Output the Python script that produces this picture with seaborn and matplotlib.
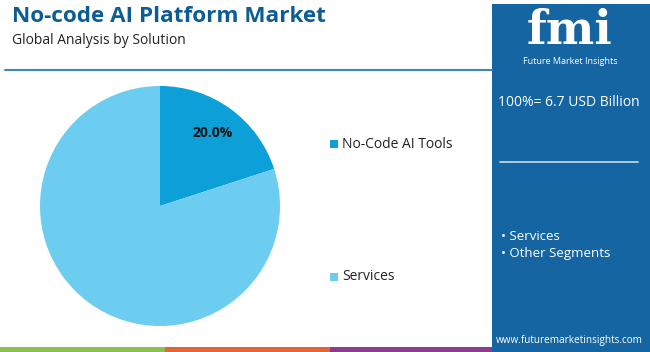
import matplotlib
matplotlib.use("Agg")
import matplotlib.pyplot as plt
from matplotlib.patches import Rectangle
import seaborn as sns

categories = ["No-Code AI Tools", "Services"]
shares = [20.0, 80.0]
label_texts = ["20.0%", ""]
colors = ["#0c9fd8", "#6ccdf0"]

title = "No-code AI Platform Market"
subtitle = "Global Analysis by Solution"
total_text = "100%= 6.7 USD Billion"
bullets = ["• Services", "• Other Segments"]
website = "www.futuremarketinsights.com"

sns.set_theme(style="white")
plt.rcParams['font.family'] = ['Open Sans', 'DejaVu Sans']

W, H = 650, 352
fig = plt.figure(figsize=(W / 100, H / 100), dpi=100)
fig.patch.set_facecolor("white")

def fx(x):
    return x / W

def fy(y):
    return 1 - y / H

# Right panel
fig.patches.append(Rectangle((fx(492), fy(346)), fx(650) - fx(492), fy(4) - fy(346),
                             transform=fig.transFigure, facecolor="#1565a3", edgecolor="none", zorder=0))
# bottom strips
for x0, x1, c in [(0, 165, "#8cc152"), (165, 330, "#e2653a"), (330, 492, "#8e3b8f")]:
    fig.patches.append(Rectangle((fx(x0), fy(352)), fx(x1) - fx(x0), fy(347) - fy(352),
                                 transform=fig.transFigure, facecolor=c, edgecolor="none"))
fig.patches.append(Rectangle((fx(492), fy(352)), fx(650) - fx(492), fy(346) - fy(352),
                             transform=fig.transFigure, facecolor="#1565a3", edgecolor="none"))

# header line
fig.lines.append(plt.Line2D([fx(5), fx(492)], [fy(70), fy(70)], transform=fig.transFigure,
                            color="#3d86c0", lw=1.5))

fig.text(fx(12), fy(17), title, fontsize=16.2, fontweight="bold", color="#0b5d94", va="center", ha="left")
fig.text(fx(12), fy(41), subtitle, fontsize=10, color="#222222", va="center", ha="left")

# logo
fig.text(fx(570), fy(31), "fmi", fontsize=33, fontweight="bold", color="white", ha="center", va="center",
         family=["DejaVu Serif"])
fig.text(fx(570), fy(62), "Future Market Insights", fontsize=6.5, color="white", ha="center", va="center")

fig.text(fx(569), fy(102), total_text, fontsize=10, color="white", ha="center", va="center")
fig.lines.append(plt.Line2D([fx(500), fx(638)], [fy(162), fy(162)], transform=fig.transFigure,
                            color="#c9dcec", lw=1.2))
for i, b in enumerate(bullets):
    fig.text(fx(501), fy(237 + 17 * i), b, fontsize=9.5, color="white", ha="left", va="center")
fig.text(fx(569), fy(340), website, fontsize=7.2, color="white", ha="center", va="center")

# pie
ax = fig.add_axes([fx(40), fy(326), fx(280) - fx(40), fy(86) - fy(326)])
wedges, texts = ax.pie(shares, colors=colors, startangle=90, counterclock=False,
                       labels=label_texts, labeldistance=0.75,
                       wedgeprops=dict(edgecolor="none"))
for t in texts:
    t.set_fontsize(10)
    t.set_fontweight("bold")
    t.set_color("#111111")
    t.set_ha("center")
ax.set_xlim(-1, 1)
ax.set_ylim(-1, 1)
ax.set_aspect("equal")
ax.axis("off")

# legend
for i, (cat, c) in enumerate(zip(categories, colors)):
    y = [144, 277][i]
    fig.patches.append(Rectangle((fx(330), fy(y + 4)), fx(8), fy(0) - fy(8),
                                 transform=fig.transFigure, facecolor=c, edgecolor="none"))
    fig.text(fx(342), fy(y), cat, fontsize=10, color="#222222", ha="left", va="center")

fig.savefig("out.png", dpi=100)
